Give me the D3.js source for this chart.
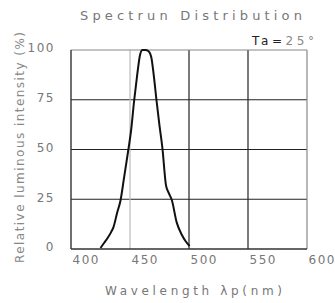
<!DOCTYPE html>
<html>
<head>
<meta charset="utf-8">
<script src="https://cdn.jsdelivr.net/npm/d3@7"></script>
<style>
  html, body { margin: 0; padding: 0; background: #fff; }
  svg text { font-family: 'DejaVu Sans', sans-serif; }
</style>
</head>
<body>
<svg id="chart" width="335" height="303"></svg>
<script>
// spectrum curve
const wavelengths = [425, 428, 431, 434, 436, 439, 442, 445, 448.5, 451, 453.5, 456, 458.5, 460.5, 463, 465.5, 468, 470, 472.5, 475, 477.5, 480.5, 483, 485.5, 489.5, 494, 497, 500.5];
const intensity = [0.5, 3, 5.5, 8.5, 11, 18, 24.5, 36, 49.5, 60, 74.5, 87, 97.5, 100, 100, 99.5, 96.5, 88, 74.5, 62, 50.5, 32, 28, 24.5, 13.5, 7, 4, 1.5];

const xTicks = [400, 450, 500, 550, 600];
const yTicks = [0, 25, 50, 75, 100];

const titleText = 'Spectrun Distribution';
const xTitle = 'Wavelength \u03bbp(nm)';
const yTitle = 'Relative luminous intensity (%)';

const svg = d3.select('#chart');
const margin = { top: 50, right: 28, bottom: 54, left: 71 };
const width = +svg.attr('width') - margin.left - margin.right;
const height = +svg.attr('height') - margin.top - margin.bottom;

const x = d3.scaleLinear().domain([400, 600]).range([0, width]);
const y = d3.scaleLinear().domain([0, 100]).range([height, 0]);

const g = svg.append('g')
  .attr('transform', 'translate(' + margin.left + ',' + margin.top + ')');

// grid
g.append('g')
  .selectAll('line')
  .data(yTicks.slice(1, -1))
  .enter()
  .append('line')
  .attr('x1', 0).attr('x2', width)
  .attr('y1', d => y(d)).attr('y2', d => y(d))
  .attr('stroke', '#222').attr('stroke-width', 1.2);

g.append('g')
  .selectAll('line')
  .data(xTicks.slice(1, -1))
  .enter()
  .append('line')
  .attr('y1', 0).attr('y2', height)
  .attr('x1', d => x(d)).attr('x2', d => x(d))
  .attr('stroke', d => d === 450 ? '#bbb' : '#222')
  .attr('stroke-width', 1.2);

// frame
g.append('line').attr('x1', 0).attr('x2', width).attr('y1', 0).attr('y2', 0)
  .attr('stroke', '#888').attr('stroke-width', 1.2);
g.append('line').attr('x1', width).attr('x2', width).attr('y1', 0).attr('y2', height)
  .attr('stroke', '#888').attr('stroke-width', 1.2);
g.append('line').attr('x1', 0).attr('x2', 0).attr('y1', 0).attr('y2', height)
  .attr('stroke', '#333').attr('stroke-width', 1.4);
g.append('line').attr('x1', 0).attr('x2', width).attr('y1', height).attr('y2', height)
  .attr('stroke', '#333').attr('stroke-width', 1.4);

// tick labels
const xAxis = g.append('g')
  .attr('transform', 'translate(0,' + height + ')')
  .call(d3.axisBottom(x).tickValues(xTicks).tickSize(0).tickPadding(0));
xAxis.select('.domain').remove();
xAxis.selectAll('text')
  .attr('text-anchor', 'start')
  .attr('dx', 1)
  .attr('dy', '1.25em')
  .attr('fill', '#777')
  .attr('letter-spacing', 1.5)
  .style('font-size', '12px');

const yAxis = g.append('g')
  .call(d3.axisLeft(y).tickValues(yTicks).tickSize(0).tickPadding(16));
yAxis.select('.domain').remove();
yAxis.selectAll('text')
  .attr('dy', '0.15em')
  .attr('fill', '#777')
  .attr('letter-spacing', 1.5)
  .style('font-size', '12px');

// curve
const pts = wavelengths.map((w, i) => [w, intensity[i]]);
g.append('path')
  .datum(pts)
  .attr('fill', 'none')
  .attr('stroke', '#111')
  .attr('stroke-width', 2)
  .attr('d', d3.line().x(d => x(d[0])).y(d => y(d[1])).curve(d3.curveMonotoneX));

// titles
svg.append('text')
  .attr('x', 80).attr('y', 20)
  .attr('textLength', 222).attr('lengthAdjust', 'spacing')
  .attr('fill', '#777')
  .style('font-size', '13px')
  .text(titleText);

const ta = svg.append('text')
  .attr('x', 252).attr('y', 45)
  .attr('textLength', 62).attr('lengthAdjust', 'spacing')
  .style('font-size', '12px');
ta.append('tspan').attr('fill', '#222').text('Ta=');
ta.append('tspan').attr('fill', '#888').text('25\u00b0');

svg.append('text')
  .attr('x', 105).attr('y', 295)
  .attr('textLength', 177).attr('lengthAdjust', 'spacing')
  .attr('fill', '#777')
  .style('font-size', '12px')
  .text(xTitle);

svg.append('text')
  .attr('transform', 'translate(24,263) rotate(-90)')
  .attr('textLength', 231).attr('lengthAdjust', 'spacing')
  .attr('fill', '#888')
  .style('font-size', '12px')
  .text(yTitle);
</script>
</body>
</html>
